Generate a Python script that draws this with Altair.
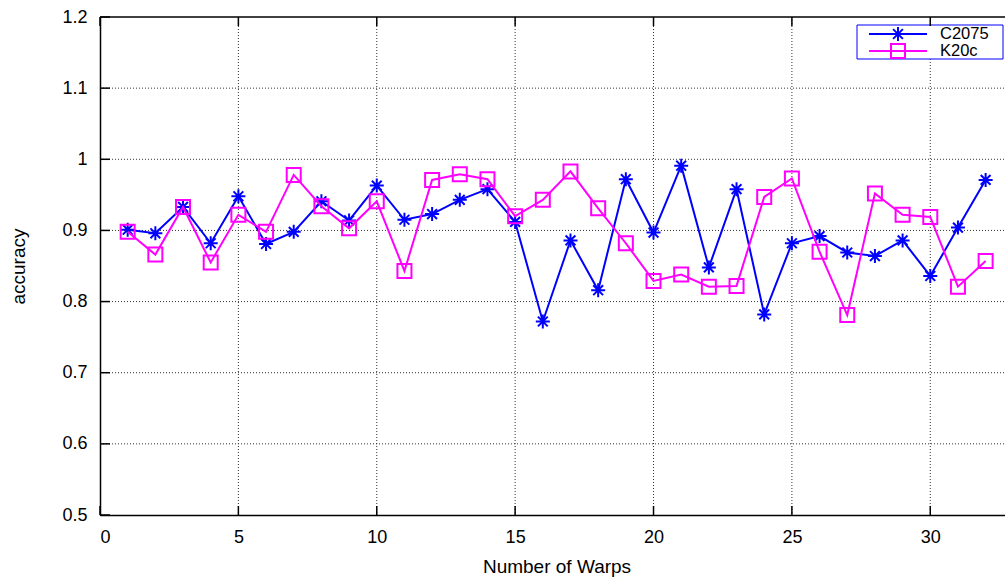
import altair as alt
import pandas as pd

warps = list(range(1, 33))
c2075 = [0.901, 0.896, 0.933, 0.882, 0.948, 0.881, 0.898, 0.941, 0.914, 0.963, 0.915,
         0.923, 0.943, 0.958, 0.912, 0.772, 0.886, 0.816, 0.972, 0.897, 0.991, 0.848,
         0.958, 0.782, 0.882, 0.892, 0.869, 0.864, 0.886, 0.836, 0.904, 0.971]
k20c = [0.898, 0.866, 0.933, 0.855, 0.922, 0.898, 0.978, 0.934, 0.903, 0.941, 0.843,
        0.971, 0.979, 0.972, 0.920, 0.943, 0.983, 0.931, 0.882, 0.829, 0.838, 0.821,
        0.822, 0.947, 0.973, 0.870, 0.781, 0.952, 0.922, 0.919, 0.821, 0.857]
series_names = ["C2075", "K20c"]
series_colors = ["#0000ff", "#ff00ff"]
x_ticks = [0, 5, 10, 15, 20, 25, 30]
y_ticks = [0.5, 0.6, 0.7, 0.8, 0.9, 1.0, 1.1, 1.2]

W, H = 905, 498
FONT = "Liberation Sans"
ASTERISK = "M-1,0L1,0M0,-1L0,1M-0.7,-0.7L0.7,0.7M-0.7,0.7L0.7,-0.7"
shapes = [ASTERISK, "square"]

df = pd.DataFrame({
    "warps": warps * 2,
    "accuracy": c2075 + k20c,
    "series": [series_names[0]] * len(warps) + [series_names[1]] * len(warps),
})
xt = pd.DataFrame({"v": x_ticks})
yt = pd.DataFrame({"v": y_ticks})
one = pd.DataFrame({"a": [0]})

xscale = alt.Scale(domain=[0, 32.7], nice=False, zero=False)
yscale = alt.Scale(domain=[0.5, 1.2], nice=False, zero=False)

X = lambda f: alt.X(f, scale=xscale, title="Number of Warps",
                    axis=alt.Axis(values=x_ticks, format="d", labelPadding=13,
                                  titleX=456.5, titleY=51, titleBaseline="middle"))
Y = lambda f: alt.Y(f, scale=yscale, title="accuracy",
                    axis=alt.Axis(values=y_ticks, format="~g", labelPadding=13,
                                  titleX=-82, titleY=H / 2, titleBaseline="middle",
                                  titleAlign="center"))

# grid
vgrid = alt.Chart(xt).transform_filter("datum.v > 0").mark_rule(
    color="#333333", strokeWidth=1, strokeDash=[1, 2]
).encode(x=X("v:Q"), y=alt.value(0), y2=alt.value(H))
hgrid = alt.Chart(yt).transform_filter("datum.v > 0.55 && datum.v < 1.15").mark_rule(
    color="#333333", strokeWidth=1, strokeDash=[1, 2]
).encode(y=Y("v:Q"), x=alt.value(0), x2=alt.value(W))

# inward ticks
tick_style = dict(color="black", strokeWidth=1.5)
xt_bottom = alt.Chart(xt).mark_rule(**tick_style).encode(
    x=X("v:Q"), y=alt.value(H), y2=alt.value(H - 9))
xt_top = alt.Chart(xt).mark_rule(**tick_style).encode(
    x=X("v:Q"), y=alt.value(0), y2=alt.value(9))
yt_left = alt.Chart(yt).mark_rule(**tick_style).encode(
    y=Y("v:Q"), x=alt.value(0), x2=alt.value(10))
top_border = alt.Chart(one).mark_rule(color="black", strokeWidth=1.5).encode(
    x=alt.value(0), x2=alt.value(W), y=alt.value(0))

# series
layers = []
for name, col, shp in zip(series_names, series_colors, shapes):
    base = alt.Chart(df).transform_filter(alt.datum.series == name)
    line = base.mark_line(color=col, strokeWidth=2).encode(
        x=X("warps:Q"), y=Y("accuracy:Q"))
    pts = base.mark_point(shape=shp, color=col, filled=False, size=196,
                          strokeWidth=2, opacity=1).encode(
        x=X("warps:Q"), y=Y("accuracy:Q"))
    layers += [line, pts]

# legend
box = alt.Chart(one).mark_rect(fill="white", stroke="#0000ff", strokeWidth=1).encode(
    x=alt.value(757), x2=alt.value(903), y=alt.value(8), y2=alt.value(42))
leg = []
for i, (name, col, shp) in enumerate(zip(series_names, series_colors, shapes)):
    ly = 17 + 17 * i
    leg.append(alt.Chart(one).mark_rule(color=col, strokeWidth=2).encode(
        x=alt.value(769), x2=alt.value(827), y=alt.value(ly)))
    leg.append(alt.Chart(one).mark_point(shape=shp, color=col, filled=False, size=196,
                                         strokeWidth=2, opacity=1).encode(
        x=alt.value(798), y=alt.value(ly)))
    leg.append(alt.Chart(one).mark_text(align="left", baseline="middle", font=FONT,
                                        fontSize=16.5, color="black", text=name).encode(
        x=alt.value(840), y=alt.value(ly)))

chart = alt.layer(
    vgrid, hgrid, *layers, box, *leg, xt_bottom, xt_top, yt_left, top_border
).properties(
    width=W, height=H,
    autosize=alt.AutoSizeParams(type="none"),
    padding={"left": 100, "top": 17, "right": 0, "bottom": 66},
    background="white",
).configure_view(stroke=None).configure_axis(
    labelFont=FONT, titleFont=FONT, labelFontSize=18, titleFontSize=19,
    titleFontWeight="normal", labelColor="black", titleColor="black",
    domainColor="black", domainWidth=1.5, ticks=False, grid=False,
)

chart.save("out.html", embed_options={"renderer": "svg", "actions": False})
